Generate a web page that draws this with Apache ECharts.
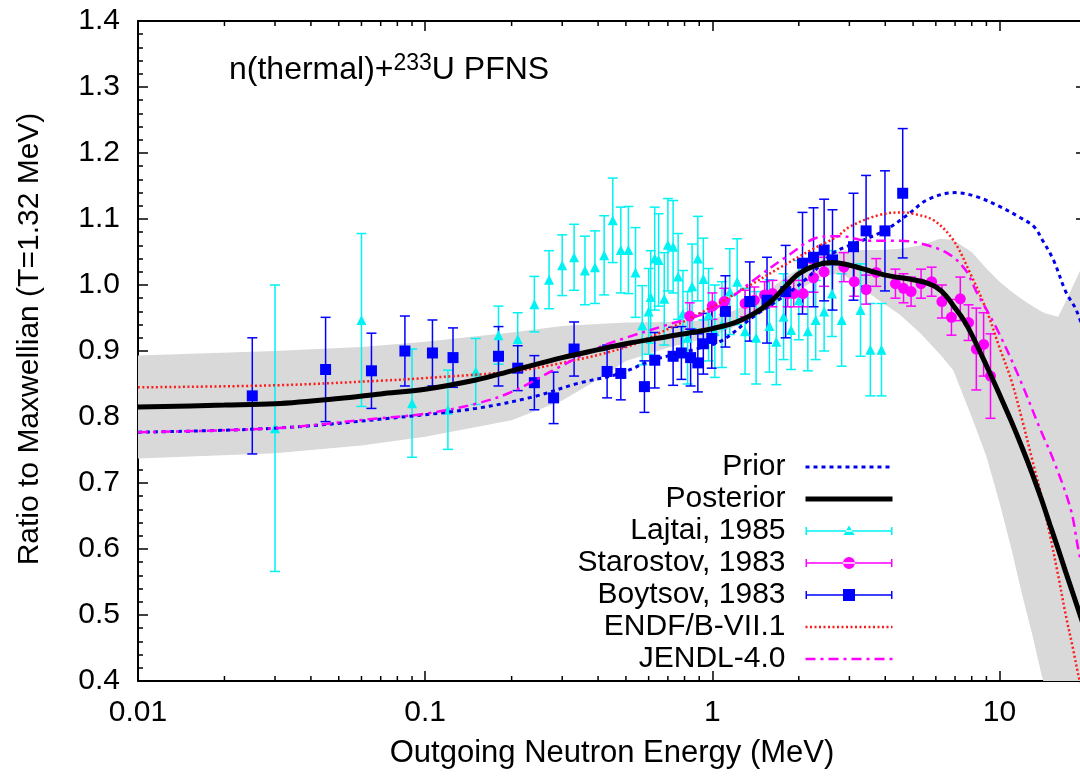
<!DOCTYPE html>
<html>
<head>
<meta charset="utf-8">
<script src="https://cdn.jsdelivr.net/npm/echarts@6/dist/echarts.min.js"></script>
<style>
  html, body { margin: 0; padding: 0; background: #fff; }
  #chart { width: 1080px; height: 778px; }
</style>
</head>
<body>
<div id="chart"></div>
<script>
// ---- data ----
const xTickValues = [0.01, 0.1, 1, 10];
const xTickLabels = ['0.01', '0.1', '1', '10'];
const xMinorTicks = [0.02, 0.03, 0.04, 0.05, 0.06, 0.07, 0.08, 0.09,
  0.2, 0.3, 0.4, 0.5, 0.6, 0.7, 0.8, 0.9, 2, 3, 4, 5, 6, 7, 8, 9];

// uncertainty band of the posterior
const bandE  = [0.01, 0.03, 0.06, 0.1, 0.2, 0.3, 0.4, 0.5, 0.7, 1.0, 1.4, 1.8, 2.4, 2.8, 3.1, 3.8, 4.5, 5.3, 6.2, 6.9, 8.0, 9.0, 10, 11, 12, 13, 14, 14.5, 16, 17, 19, 20];
const bandLo = [0.737, 0.745, 0.757, 0.770, 0.795, 0.825, 0.857, 0.885, 0.905, 0.922, 0.950, 0.982, 1.012, 1.018, 1.005, 0.977, 0.955, 0.927, 0.895, 0.871, 0.80, 0.74, 0.67, 0.60, 0.53, 0.47, 0.41, 0.385, 0.30, 0.20, 0.10, 0.0];
const bandHi = [0.893, 0.900, 0.906, 0.914, 0.928, 0.938, 0.941, 0.943, 0.944, 0.947, 0.975, 1.012, 1.045, 1.052, 1.053, 1.053, 1.055, 1.060, 1.070, 1.068, 1.050, 1.025, 1.005, 0.990, 0.978, 0.968, 0.960, 0.957, 0.952, 0.975, 1.020, 1.050];

const priorE = [0.01, 0.03, 0.075, 0.15, 0.24, 0.34, 0.47, 0.62, 0.86, 1.07, 1.39, 1.83, 2.17, 2.63, 3.35, 4.0, 4.77, 5.6, 7.0, 8.3, 10, 11.7, 13.2, 14.1, 15.4, 17, 18.5, 20];
const priorV = [0.777, 0.783, 0.798, 0.813, 0.831, 0.851, 0.865, 0.886, 0.902, 0.915, 0.952, 0.987, 1.013, 1.048, 1.068, 1.083, 1.106, 1.129, 1.140, 1.134, 1.119, 1.103, 1.088, 1.068, 1.038, 0.990, 0.962, 0.920];

const postE = [0.01, 0.02, 0.03, 0.05, 0.07, 0.1, 0.15, 0.2, 0.3, 0.4, 0.5, 0.7, 0.9, 1.0, 1.2, 1.4, 1.6, 1.8, 2.0, 2.3, 2.6, 3.0, 3.5, 4.0, 5.0, 5.5, 6.0, 6.5, 7.0, 7.5, 8.0, 9.0, 10, 11, 12, 13, 14, 15, 16, 17, 18, 20];
const postV = [0.815, 0.818, 0.820, 0.828, 0.835, 0.842, 0.856, 0.870, 0.890, 0.902, 0.911, 0.922, 0.930, 0.934, 0.943, 0.957, 0.975, 0.998, 1.017, 1.030, 1.034, 1.030, 1.022, 1.015, 1.008, 1.004, 0.997, 0.984, 0.965, 0.947, 0.925, 0.878, 0.834, 0.793, 0.753, 0.714, 0.675, 0.636, 0.600, 0.565, 0.533, 0.473];

const endfE = [0.01, 0.03, 0.07, 0.1, 0.2, 0.3, 0.5, 0.73, 1.0, 1.32, 1.73, 2.25, 2.71, 3.0, 3.8, 4.6, 5.0, 5.9, 6.9, 7.9, 9.0, 10, 11, 12, 13, 14, 15, 16, 17, 18, 19, 20];
const endfV = [0.845, 0.848, 0.855, 0.859, 0.869, 0.882, 0.906, 0.937, 0.967, 0.997, 1.027, 1.055, 1.073, 1.088, 1.106, 1.110, 1.108, 1.098, 1.068, 1.018, 0.962, 0.905, 0.855, 0.795, 0.735, 0.680, 0.620, 0.560, 0.500, 0.450, 0.400, 0.360];

const jendlE = [0.01, 0.03, 0.065, 0.1, 0.15, 0.2, 0.3, 0.4, 0.5, 0.7, 1.0, 1.4, 1.8, 2.4, 2.8, 3.5, 4.5, 5.3, 6.6, 7.6, 8.3, 9.7, 11.7, 13.9, 15.4, 17.7, 19, 20];
const jendlV = [0.777, 0.783, 0.797, 0.805, 0.820, 0.838, 0.878, 0.905, 0.920, 0.940, 0.962, 1.008, 1.042, 1.073, 1.074, 1.067, 1.067, 1.063, 1.048, 1.023, 0.990, 0.937, 0.860, 0.780, 0.735, 0.660, 0.590, 0.560];

const lajtaiE = [0.03, 0.06, 0.09, 0.12, 0.15, 0.18, 0.21, 0.24, 0.27, 0.30, 0.33, 0.36, 0.39, 0.42, 0.45, 0.48, 0.51, 0.54, 0.57, 0.60, 0.61, 0.63, 0.65, 0.68, 0.70, 0.73, 0.76, 0.79, 0.82, 0.85, 0.89, 0.93, 0.97, 1.02, 1.08, 1.15, 1.22, 1.30, 1.42, 1.58, 1.67, 1.77, 1.88, 2.00, 2.15, 2.29, 2.45, 2.61, 2.82, 3.28, 3.55, 3.88];
const lajtaiV = [0.783, 0.947, 0.821, 0.811, 0.869, 0.924, 0.918, 0.971, 1.008, 1.030, 1.042, 1.022, 1.027, 1.045, 1.098, 1.053, 1.053, 1.019, 0.939, 0.960, 0.982, 1.040, 1.038, 0.979, 1.061, 1.058, 1.013, 0.957, 0.920, 0.998, 1.040, 1.009, 0.955, 0.930, 0.940, 0.990, 1.005, 0.930, 0.920, 0.938, 0.914, 0.952, 0.932, 0.977, 0.930, 0.947, 0.960, 0.987, 0.947, 0.962, 0.902, 0.902];
const lajtaiErr = [0.217, 0.131, 0.082, 0.060, 0.050, 0.044, 0.040, 0.042, 0.044, 0.046, 0.050, 0.052, 0.055, 0.060, 0.064, 0.065, 0.066, 0.068, 0.060, 0.065, 0.070, 0.078, 0.070, 0.070, 0.070, 0.070, 0.065, 0.065, 0.070, 0.064, 0.064, 0.062, 0.070, 0.070, 0.065, 0.065, 0.065, 0.065, 0.070, 0.070, 0.065, 0.065, 0.060, 0.060, 0.060, 0.060, 0.060, 0.065, 0.070, 0.070, 0.070, 0.070];

const starE = [0.834, 1.0, 1.10, 1.30, 1.40, 1.52, 1.62, 1.83, 1.92, 2.07, 2.25, 2.45, 2.87, 3.12, 3.43, 3.72, 4.34, 4.63, 4.92, 5.33, 5.80, 6.3, 6.8, 7.3, 7.8, 8.3, 8.8, 9.3];
const starV = [0.953, 0.968, 0.975, 0.972, 0.977, 0.985, 0.987, 0.987, 0.987, 0.987, 1.011, 1.020, 1.027, 1.005, 0.993, 1.019, 1.002, 0.995, 0.990, 1.002, 1.005, 0.975, 0.951, 0.979, 0.943, 0.903, 0.910, 0.862];
const starErr = [0.020, 0.020, 0.020, 0.020, 0.020, 0.020, 0.020, 0.020, 0.020, 0.020, 0.022, 0.022, 0.022, 0.022, 0.022, 0.021, 0.022, 0.022, 0.022, 0.022, 0.022, 0.025, 0.027, 0.033, 0.027, 0.062, 0.048, 0.064];

const boytsovE = [0.025, 0.045, 0.065, 0.085, 0.106, 0.125, 0.18, 0.21, 0.24, 0.28, 0.33, 0.43, 0.48, 0.58, 0.63, 0.73, 0.78, 0.84, 0.89, 0.93, 0.995, 1.11, 1.35, 1.55, 1.8, 2.06, 2.25, 2.45, 2.62, 3.1, 3.43, 3.99, 4.6];
const boytsovV = [0.832, 0.872, 0.870, 0.900, 0.897, 0.890, 0.892, 0.874, 0.852, 0.829, 0.903, 0.869, 0.866, 0.846, 0.886, 0.892, 0.897, 0.890, 0.882, 0.911, 0.919, 0.960, 0.975, 0.977, 0.990, 1.033, 1.042, 1.053, 1.038, 1.058, 1.082, 1.082, 1.139];
const boytsovErr = [0.088, 0.079, 0.057, 0.053, 0.050, 0.045, 0.045, 0.034, 0.041, 0.039, 0.041, 0.040, 0.040, 0.039, 0.042, 0.044, 0.040, 0.043, 0.044, 0.046, 0.045, 0.054, 0.060, 0.065, 0.070, 0.077, 0.075, 0.077, 0.076, 0.081, 0.084, 0.091, 0.098];

// ---- helpers ----
const FONT = '"Liberation Sans", Arial, sans-serif';
const pairs = (xs, ys) => xs.map((x, i) => [x, ys[i]]);
const triples = (xs, ys, es) => xs.map((x, i) => [x, ys[i], es[i]]);

// legend icons: error bar with marker, in a 87 x 12 box
const barPath = 'M0,2 L1.5,2 L1.5,5.3 L85.5,5.3 L85.5,2 L87,2 L87,10 L85.5,10 L85.5,6.7 L1.5,6.7 L1.5,10 L0,10 Z';
const lajtaiIcon = 'path://' + barPath + ' M38,10 L49,10 L43.5,0.5 Z M43.5,0 L43.5,0 M43.5,12 L43.5,12';
const starIcon = 'path://' + barPath + ' M37.5,6 A6,6 0 1 0 49.5,6 A6,6 0 1 0 37.5,6 Z';
const boytsovIcon = 'path://' + barPath + ' M37.5,0 L49.5,0 L49.5,12 L37.5,12 Z';
const hideMarker = { opacity: 0 };

function errorBarSeries(name, color, data, z) {
  return {
    type: 'custom',
    name: name,
    data: data,
    encode: { x: 0, y: 1 },
    z: z,
    silent: true,
    clip: true,
    renderItem: function (params, api) {
      const x = api.value(0), v = api.value(1), e = api.value(2);
      const top = api.coord([x, v + e]);
      const bot = api.coord([x, v - e]);
      const hw = 5;
      const st = { stroke: color, lineWidth: 1.5 };
      return {
        type: 'group',
        children: [
          { type: 'line', shape: { x1: top[0], y1: top[1], x2: bot[0], y2: bot[1] }, style: st },
          { type: 'line', shape: { x1: top[0] - hw, y1: top[1], x2: top[0] + hw, y2: top[1] }, style: st },
          { type: 'line', shape: { x1: bot[0] - hw, y1: bot[1], x2: bot[0] + hw, y2: bot[1] }, style: st }
        ]
      };
    }
  };
}

function curveSeries(name, data, color, width, dash, z) {
  return {
    type: 'line',
    name: name,
    data: data,
    symbol: 'none',
    smooth: 0.35,
    z: z,
    lineStyle: { color: color, width: width, type: dash },
    itemStyle: { color: color },
    emphasis: { disabled: true }
  };
}

function markerSeries(name, data, symbol, size, color, z) {
  return {
    type: 'scatter', name: name, data: data,
    symbol: symbol, symbolSize: size, z: z,
    itemStyle: { color: color, opacity: 1 },
    emphasis: { disabled: true }
  };
}

const chart = echarts.init(document.getElementById('chart'), null, { renderer: 'canvas' });

const labelStyle = { color: '#000', fontSize: 30, fontFamily: FONT };

const option = {
  animation: false,
  backgroundColor: '#fff',
  textStyle: { fontFamily: FONT },
  grid: { left: 138, top: 21, width: 948, height: 660, containLabel: false, outerBoundsMode: 'none' },
  xAxis: [{
    type: 'log', logBase: 10, min: 0.01, max: 20, position: 'bottom',
    axisLine: { show: true, onZero: false, lineStyle: { color: '#000', width: 2 } },
    axisTick: { show: true, inside: true, length: 10, lineStyle: { color: '#000', width: 1.5 } },
    minorTick: { show: false },
    splitLine: { show: false },
    axisLabel: Object.assign({}, labelStyle, {
      margin: 17, showMaxLabel: false,
      formatter: function (v) {
        const i = xTickValues.findIndex(t => Math.abs(Math.log10(t) - Math.log10(v)) < 1e-6);
        return i >= 0 ? xTickLabels[i] : '';
      }
    }),
    name: 'Outgoing Neutron Energy (MeV)',
    nameLocation: 'middle', nameGap: 57,
    nameTextStyle: Object.assign({}, labelStyle, { fontSize: 31 })
  }, {
    type: 'log', logBase: 10, min: 0.01, max: 20, position: 'top',
    axisLine: { show: true, onZero: false, lineStyle: { color: '#000', width: 2 } },
    axisTick: { show: true, inside: true, length: 10, lineStyle: { color: '#000', width: 1.5 } },
    axisLabel: { show: false },
    splitLine: { show: false }
  }],
  yAxis: [{
    type: 'value', min: 0.4, max: 1.4, interval: 0.1, position: 'left',
    axisLine: { show: true, onZero: false, lineStyle: { color: '#000', width: 2 } },
    axisTick: { show: true, inside: true, length: 10, lineStyle: { color: '#000', width: 1.5 } },
    minorTick: { show: true, splitNumber: 5, length: 5, lineStyle: { color: '#000', width: 1.5 } },
    splitLine: { show: false },
    axisLabel: Object.assign({}, labelStyle, { margin: 18, formatter: v => v.toFixed(1) }),
    name: 'Ratio to Maxwellian (T=1.32 MeV)',
    nameLocation: 'middle', nameGap: 93,
    nameTextStyle: Object.assign({}, labelStyle, { padding: [0, 0, 0, 24] })
  }, {
    type: 'value', min: 0.4, max: 1.4, interval: 0.1, position: 'right',
    axisLine: { show: true, onZero: false, lineStyle: { color: '#000', width: 2 } },
    axisTick: { show: true, inside: true, length: 10, lineStyle: { color: '#000', width: 1.5 } },
    minorTick: { show: true, splitNumber: 5, length: 5, lineStyle: { color: '#000', width: 1.5 } },
    splitLine: { show: false },
    axisLabel: { show: false }
  }],
  legend: {
    orient: 'vertical', right: 185, top: 452, padding: 0,
    align: 'right', itemWidth: 87, itemHeight: 12, itemGap: 2,
    selectedMode: false,
    lineStyle: { width: 'inherit' },
    textStyle: { color: '#000', fontSize: 30, fontFamily: FONT, lineHeight: 26, padding: [0, 15, 0, 0] },
    data: [
      { name: 'Prior', itemStyle: hideMarker },
      { name: 'Posterior', itemStyle: hideMarker },
      { name: 'Lajtai, 1985', icon: lajtaiIcon },
      { name: 'Starostov, 1983', icon: starIcon },
      { name: 'Boytsov, 1983', icon: boytsovIcon },
      { name: 'ENDF/B-VII.1', itemStyle: hideMarker },
      { name: 'JENDL-4.0', itemStyle: hideMarker }
    ]
  },
  graphic: [{
    type: 'text', x: 229, y: 70,
    style: {
      text: '{a|n(thermal)+}{s|233}{a|U PFNS}',
      verticalAlign: 'middle',
      rich: {
        a: { fontSize: 32, fontFamily: FONT, fill: '#000', lineHeight: 36 },
        s: { fontSize: 23, fontFamily: FONT, fill: '#000', verticalAlign: 'top', lineHeight: 36 }
      }
    }
  }],
  series: [
    {
      type: 'custom', name: 'band', silent: true, clip: true, z: 1,
      data: triples(bandE, bandLo, bandHi),
      encode: { x: 0, y: [1, 2] },
      renderItem: function (params, api) {
        if (params.dataIndex !== 0) return null;
        const pts = [];
        bandE.forEach((e, i) => pts.push(api.coord([e, bandHi[i]])));
        for (let i = bandE.length - 1; i >= 0; i--) pts.push(api.coord([bandE[i], bandLo[i]]));
        const cs = params.coordSys;
        return {
          type: 'group',
          clipPath: { type: 'rect', shape: { x: cs.x, y: cs.y, width: cs.width, height: cs.height } },
          children: [{ type: 'polygon', shape: { points: pts }, style: { fill: '#d9d9d9', stroke: null } }]
        };
      }
    },
    // minor ticks of the log axis (bottom and top)
    {
      type: 'custom', name: 'minorTicks', silent: true, z: 10,
      data: xMinorTicks.map(v => [v, 0.4]),
      encode: { x: 0, y: 1 },
      renderItem: function (params, api) {
        const b = api.coord([api.value(0), 0.4]);
        const t = api.coord([api.value(0), 1.4]);
        const st = { stroke: '#000', lineWidth: 1.5 };
        return {
          type: 'group',
          children: [
            { type: 'line', shape: { x1: b[0], y1: b[1], x2: b[0], y2: b[1] - 5 }, style: st },
            { type: 'line', shape: { x1: t[0], y1: t[1], x2: t[0], y2: t[1] + 5 }, style: st }
          ]
        };
      }
    },
    curveSeries('Prior', pairs(priorE, priorV), '#0000ee', 3, [4, 4], 6),
    curveSeries('Posterior', pairs(postE, postV), '#000', 5, 'solid', 8),
    markerSeries('Lajtai, 1985', pairs(lajtaiE, lajtaiV), 'triangle', 10, '#00f2f2', 4),
    markerSeries('Starostov, 1983', pairs(starE, starV), 'circle', 11, '#ff00ff', 5),
    markerSeries('Boytsov, 1983', pairs(boytsovE, boytsovV), 'rect', 11, '#0000ff', 5),
    curveSeries('ENDF/B-VII.1', pairs(endfE, endfV), '#ff1a1a', 2.5, [2, 2.5], 7),
    curveSeries('JENDL-4.0', pairs(jendlE, jendlV), '#ff00ff', 2.5, [10, 5, 3, 5], 7),
    errorBarSeries('Lajtai err', '#00f2f2', triples(lajtaiE, lajtaiV, lajtaiErr), 3),
    errorBarSeries('Starostov err', '#ff00ff', triples(starE, starV, starErr), 4),
    errorBarSeries('Boytsov err', '#0000ff', triples(boytsovE, boytsovV, boytsovErr), 4)
  ]
};

chart.setOption(option);
</script>
</body>
</html>
